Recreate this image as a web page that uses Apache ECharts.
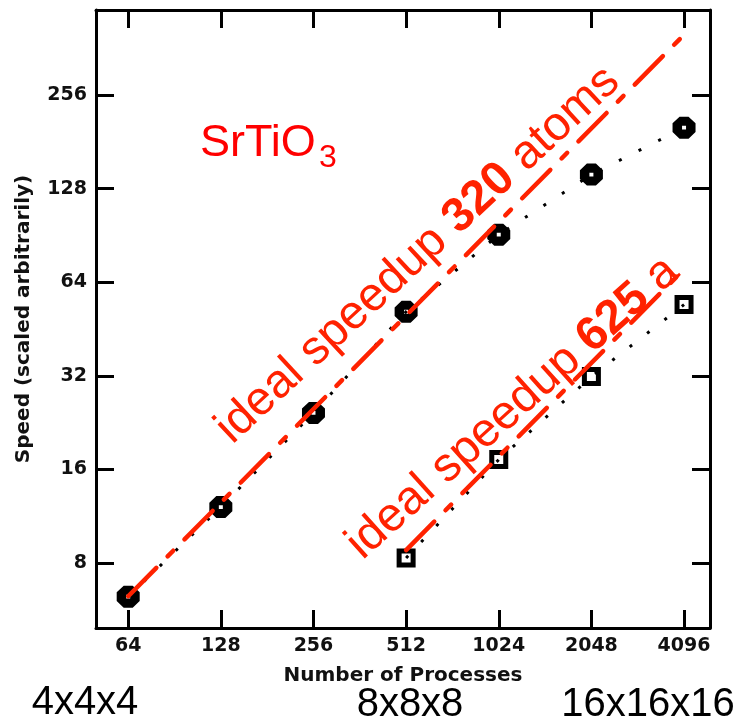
<!DOCTYPE html>
<html><head><meta charset="utf-8">
<script src="https://cdn.jsdelivr.net/npm/echarts@6/dist/echarts.min.js"></script>
<style>html,body{margin:0;padding:0;background:#fff}#c{width:742px;height:722px}</style>
</head><body><div id="c"></div>
<script>
// ---- data ----
const processes = [64, 128, 256, 512, 1024, 2048, 4096];
const speed320 = [6.23, 12.1, 24.3, 51.4, 91, 142, 201];
const procs625 = [512, 1024, 2048, 4096];
const speed625 = [8.3, 17.2, 31.8, 54.2];
const ideal320 = [[64, 6.25], [4096, 400]];
const ideal625 = [[512, 8.8], [4096, 70.4]];
const xTickLabels = ['64', '128', '256', '512', '1024', '2048', '4096'];
const yTickLabels = ['8', '16', '32', '64', '128', '256'];
const gridLabels = ['4x4x4', '8x8x8', '16x16x16'];

const X_MIN = 50.3, X_MAX = 4974, Y_MIN = 4.94, Y_MAX = 480.5;
const LBL = {fontFamily: 'DejaVu Sans', fontWeight: 'bold', fontSize: 19, color: '#111'};
function fmt(list) {
  return function (v) {
    const r = Math.round(v);
    if (Math.abs(v - r) < 1e-6 * Math.max(1, r) && list.indexOf(String(r)) >= 0) return String(r);
    return '';
  };
}
const axLine = {show: true, lineStyle: {color: '#000', width: 3}};
const axTick = {show: true, inside: true, length: 18, lineStyle: {color: '#000', width: 3}};

// filled octagon with a tiny hole, and an open square (outline with hole)
const OCTAGON = 'path://M7,0H16L23,7V16L16,23H7L0,16V7Z M9.5,9.5V13.5H13.5V9.5Z';
const OPEN_SQUARE = 'path://M0,0H19V19H0Z M5,5V14H14V5Z';

const chart = echarts.init(document.getElementById('c'), null, {renderer: 'canvas'});
const RED = '#ff2200';
const TXT = {align: 'center', textAlign: 'center', verticalAlign: 'middle', textVerticalAlign: 'middle'};
const BIG = 47.5;
const option = {
  animation: false,
  backgroundColor: '#fff',
  grid: {left: 96, right: 32, top: 10, bottom: 94},
  xAxis: [{
    type: 'log', logBase: 2, min: X_MIN, max: X_MAX, position: 'bottom',
    name: 'Number of Processes', nameLocation: 'middle', nameGap: 38,
    nameTextStyle: {fontFamily: 'DejaVu Sans', fontWeight: 'bold', fontSize: 20, color: '#111'},
    axisLine: axLine, axisTick: axTick, splitLine: {show: false}, minorTick: {show: false},
    axisLabel: Object.assign({formatter: fmt(xTickLabels), margin: 9, showMinLabel: false, showMaxLabel: false}, LBL)
  }, {
    type: 'log', logBase: 2, min: X_MIN, max: X_MAX, position: 'top',
    axisLine: axLine, axisTick: axTick, splitLine: {show: false}, axisLabel: {show: false}
  }],
  yAxis: [{
    type: 'log', logBase: 2, min: Y_MIN, max: Y_MAX, position: 'left',
    name: 'Speed (scaled arbitrarily)', nameLocation: 'middle', nameGap: 62,
    nameTextStyle: {fontFamily: 'DejaVu Sans', fontWeight: 'bold', fontSize: 20, color: '#111'},
    axisLine: axLine, axisTick: axTick, splitLine: {show: false}, minorTick: {show: false},
    axisLabel: Object.assign({formatter: fmt(yTickLabels), margin: 9, showMinLabel: false, showMaxLabel: false}, LBL)
  }, {
    type: 'log', logBase: 2, min: Y_MIN, max: Y_MAX, position: 'right',
    axisLine: axLine, axisTick: axTick, splitLine: {show: false}, axisLabel: {show: false}
  }],
  series: [{
    type: 'line', name: '320 atoms', z: 2,
    data: processes.map((p, i) => [p, speed320[i]]),
    symbol: OCTAGON, symbolSize: [23, 22],
    itemStyle: {color: '#000', borderWidth: 0},
    lineStyle: {color: '#000', width: 3, type: [3, 19]}
  }, {
    type: 'line', name: '625 atoms', z: 2,
    data: procs625.map((p, i) => [p, speed625[i]]),
    symbol: OPEN_SQUARE, symbolSize: [19, 19],
    itemStyle: {color: '#000', borderWidth: 0},
    lineStyle: {color: '#000', width: 3, type: [3, 19]}
  }, {
    type: 'line', name: 'ideal 320', z: 4, symbol: 'none',
    data: ideal320,
    lineStyle: {color: RED, width: 4.5, type: [40, 16, 8, 16], cap: 'round'}
  }, {
    type: 'line', name: 'ideal 625', z: 4, symbol: 'none',
    data: ideal625,
    lineStyle: {color: RED, width: 4.5, type: [40, 16, 8, 16], cap: 'round'}
  }],
  graphic: [
    {type: 'text', x: 200, y: 144, z: 10, style: {text: 'SrTiO', fontFamily: 'Liberation Sans', fontSize: 45, fill: '#ff0000', align: 'left', textAlign: 'left', verticalAlign: 'middle', textVerticalAlign: 'middle'}},
    {type: 'text', x: 319, y: 158, z: 10, style: {text: '3', fontFamily: 'Liberation Sans', fontSize: 32, fill: '#ff0000', align: 'left', textAlign: 'left', verticalAlign: 'middle', textVerticalAlign: 'middle'}},
    {type: 'text', x: 418, y: 255, rotation: 42.8 * Math.PI / 180, z: 10, style: Object.assign({
      text: 'ideal speedup {b|320} atoms', fontFamily: 'Liberation Sans', fontSize: BIG, fill: RED,
      rich: {b: {fontFamily: 'Liberation Sans', fontSize: BIG, fontWeight: 'bold', fill: RED, color: RED}}}, TXT)},
    {type: 'text', x: 513, y: 408, rotation: 41.9 * Math.PI / 180, z: 10, style: Object.assign({
      text: 'ideal speedup {b|625} a', fontFamily: 'Liberation Sans', fontSize: BIG, fill: RED,
      rich: {b: {fontFamily: 'Liberation Sans', fontSize: BIG, fontWeight: 'bold', fill: RED, color: RED}}}, TXT)},
    {type: 'text', x: 85, y: 703, style: Object.assign({text: gridLabels[0], fontFamily: 'Liberation Sans', fontSize: 40, fill: '#000'}, TXT)},
    {type: 'text', x: 410, y: 705, style: Object.assign({text: gridLabels[1], fontFamily: 'Liberation Sans', fontSize: 40, fill: '#000'}, TXT)},
    {type: 'text', x: 648, y: 705, style: Object.assign({text: gridLabels[2], fontFamily: 'Liberation Sans', fontSize: 40, fill: '#000'}, TXT)}
  ]
};
chart.setOption(option);
</script></body></html>
